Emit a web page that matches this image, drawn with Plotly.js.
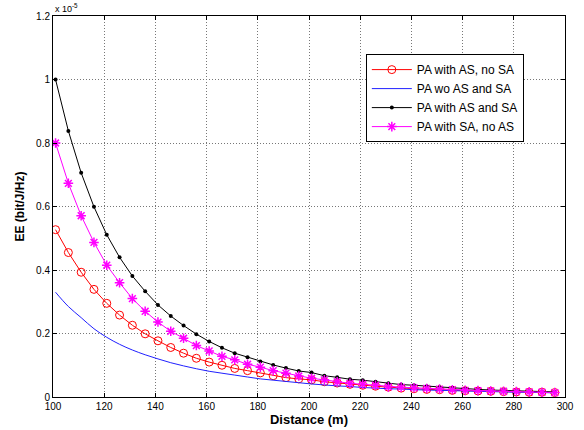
<!DOCTYPE html>
<html><head><meta charset="utf-8">
<script src="https://cdn.plot.ly/plotly-3.0.1.min.js"></script>
<style>html,body{margin:0;padding:0;background:#fff}#chart{width:584px;height:430px}</style>
</head><body><div id="chart"></div>
<script>
// Distance (m)
const distance = [101,106,111,116,121,126,131,136,141,146,151,156,161,166,171,176,181,186,191,196,201,206,211,216,221,226,231,236,241,246,251,256,261,266,271,276,281,286,291,296];
// EE values in units of 1e-5 bit/J/Hz
const eeASnoSA = [0.527,0.455,0.393,0.339,0.295,0.258,0.226,0.199,0.177,0.156,0.138,0.122,0.110,0.100,0.090,0.083,0.076,0.067,0.061,0.057,0.054,0.048,0.044,0.040,0.037,0.034,0.031,0.028,0.026,0.024,0.023,0.021,0.020,0.019,0.018,0.017,0.016,0.015,0.015,0.014];
const eeWoASSA = [0.330,0.285,0.250,0.215,0.188,0.166,0.148,0.133,0.120,0.108,0.098,0.089,0.081,0.075,0.069,0.063,0.057,0.053,0.049,0.045,0.041,0.038,0.035,0.033,0.030,0.028,0.026,0.025,0.023,0.022,0.021,0.020,0.019,0.018,0.017,0.016,0.015,0.015,0.014,0.013];
const eeASandSA = [1.000,0.838,0.706,0.599,0.511,0.440,0.381,0.333,0.290,0.255,0.225,0.198,0.175,0.155,0.138,0.125,0.112,0.101,0.091,0.082,0.077,0.067,0.062,0.056,0.053,0.048,0.043,0.039,0.037,0.034,0.031,0.028,0.026,0.024,0.022,0.021,0.019,0.018,0.017,0.016];
const eeSAnoAS = [0.800,0.673,0.571,0.487,0.415,0.360,0.310,0.270,0.236,0.207,0.185,0.162,0.145,0.128,0.117,0.103,0.094,0.083,0.075,0.066,0.059,0.054,0.048,0.043,0.040,0.037,0.032,0.031,0.029,0.027,0.025,0.023,0.021,0.020,0.019,0.018,0.017,0.016,0.015,0.014];
const seriesNames = ['PA with AS, no SA','PA wo AS and SA','PA with AS and SA','PA with SA, no AS'];
const xTicks = [100,120,140,160,180,200,220,240,260,280,300];
const yTicks = [0,0.2,0.4,0.6,0.8,1,1.2];

const traces = [
  {x:distance,y:eeASnoSA,name:seriesNames[0],mode:'lines+markers',
   line:{color:'#ff0000',width:1},marker:{symbol:'circle-open',size:8,color:'#ff0000',line:{width:1,color:'#ff0000'}}},
  {x:distance,y:eeWoASSA,name:seriesNames[1],mode:'lines',
   line:{color:'#2020ff',width:1,shape:'spline'}},
  {x:distance,y:eeASandSA,name:seriesNames[2],mode:'lines+markers',
   line:{color:'#000000',width:1},marker:{symbol:'circle',size:4,color:'#000000'}},
  {x:distance,y:eeSAnoAS,name:seriesNames[3],mode:'lines+markers',
   line:{color:'#ff00ff',width:1},marker:{symbol:'asterisk-open',size:8,color:'#ff00ff',line:{width:1.5,color:'#ff00ff'}}}
];
const FONT = 'Liberation Sans, Arial, sans-serif';
const axisFont = {family:FONT,size:10,color:'#000'};
const layout = {
  width:584,height:430,
  margin:{l:53,r:19,t:16,b:33},
  paper_bgcolor:'#fff',plot_bgcolor:'#fff',
  font:axisFont,
  showlegend:true,
  legend:{x:0.611,y:0.9,xanchor:'left',yanchor:'top',bgcolor:'#fff',bordercolor:'#000',borderwidth:1,
    font:{family:FONT,size:12,color:'#000'},tracegroupgap:0,itemwidth:40},
  xaxis:{range:[100,300],tickvals:xTicks,ticks:'inside',ticklen:4,tickcolor:'#000',
    showline:true,linecolor:'#000',linewidth:1,mirror:'ticks',
    showgrid:true,gridcolor:'#777',griddash:'1px,2px',gridwidth:1,zeroline:false,
    tickfont:axisFont,
    title:{text:'<b>Distance (m)</b>',font:{family:FONT,size:13,color:'#000'},standoff:2}},
  yaxis:{range:[0,1.2],tickvals:yTicks,ticks:'inside',ticklen:4,tickcolor:'#000',
    showline:true,linecolor:'#000',linewidth:1,mirror:'ticks',
    showgrid:true,gridcolor:'#777',griddash:'1px,2px',gridwidth:1,zeroline:false,
    tickfont:axisFont,
    title:{text:'<b>EE (bit/J/Hz)</b>',font:{family:FONT,size:12,color:'#000'},standoff:8}},
  annotations:[{xref:'paper',yref:'paper',x:0,y:1,xanchor:'left',yanchor:'bottom',showarrow:false,
    text:'x 10<sup>-5</sup>',font:{family:FONT,size:9,color:'#000'}}]
};
Plotly.newPlot('chart',traces,layout,{displayModeBar:false,staticPlot:true});
</script></body></html>
